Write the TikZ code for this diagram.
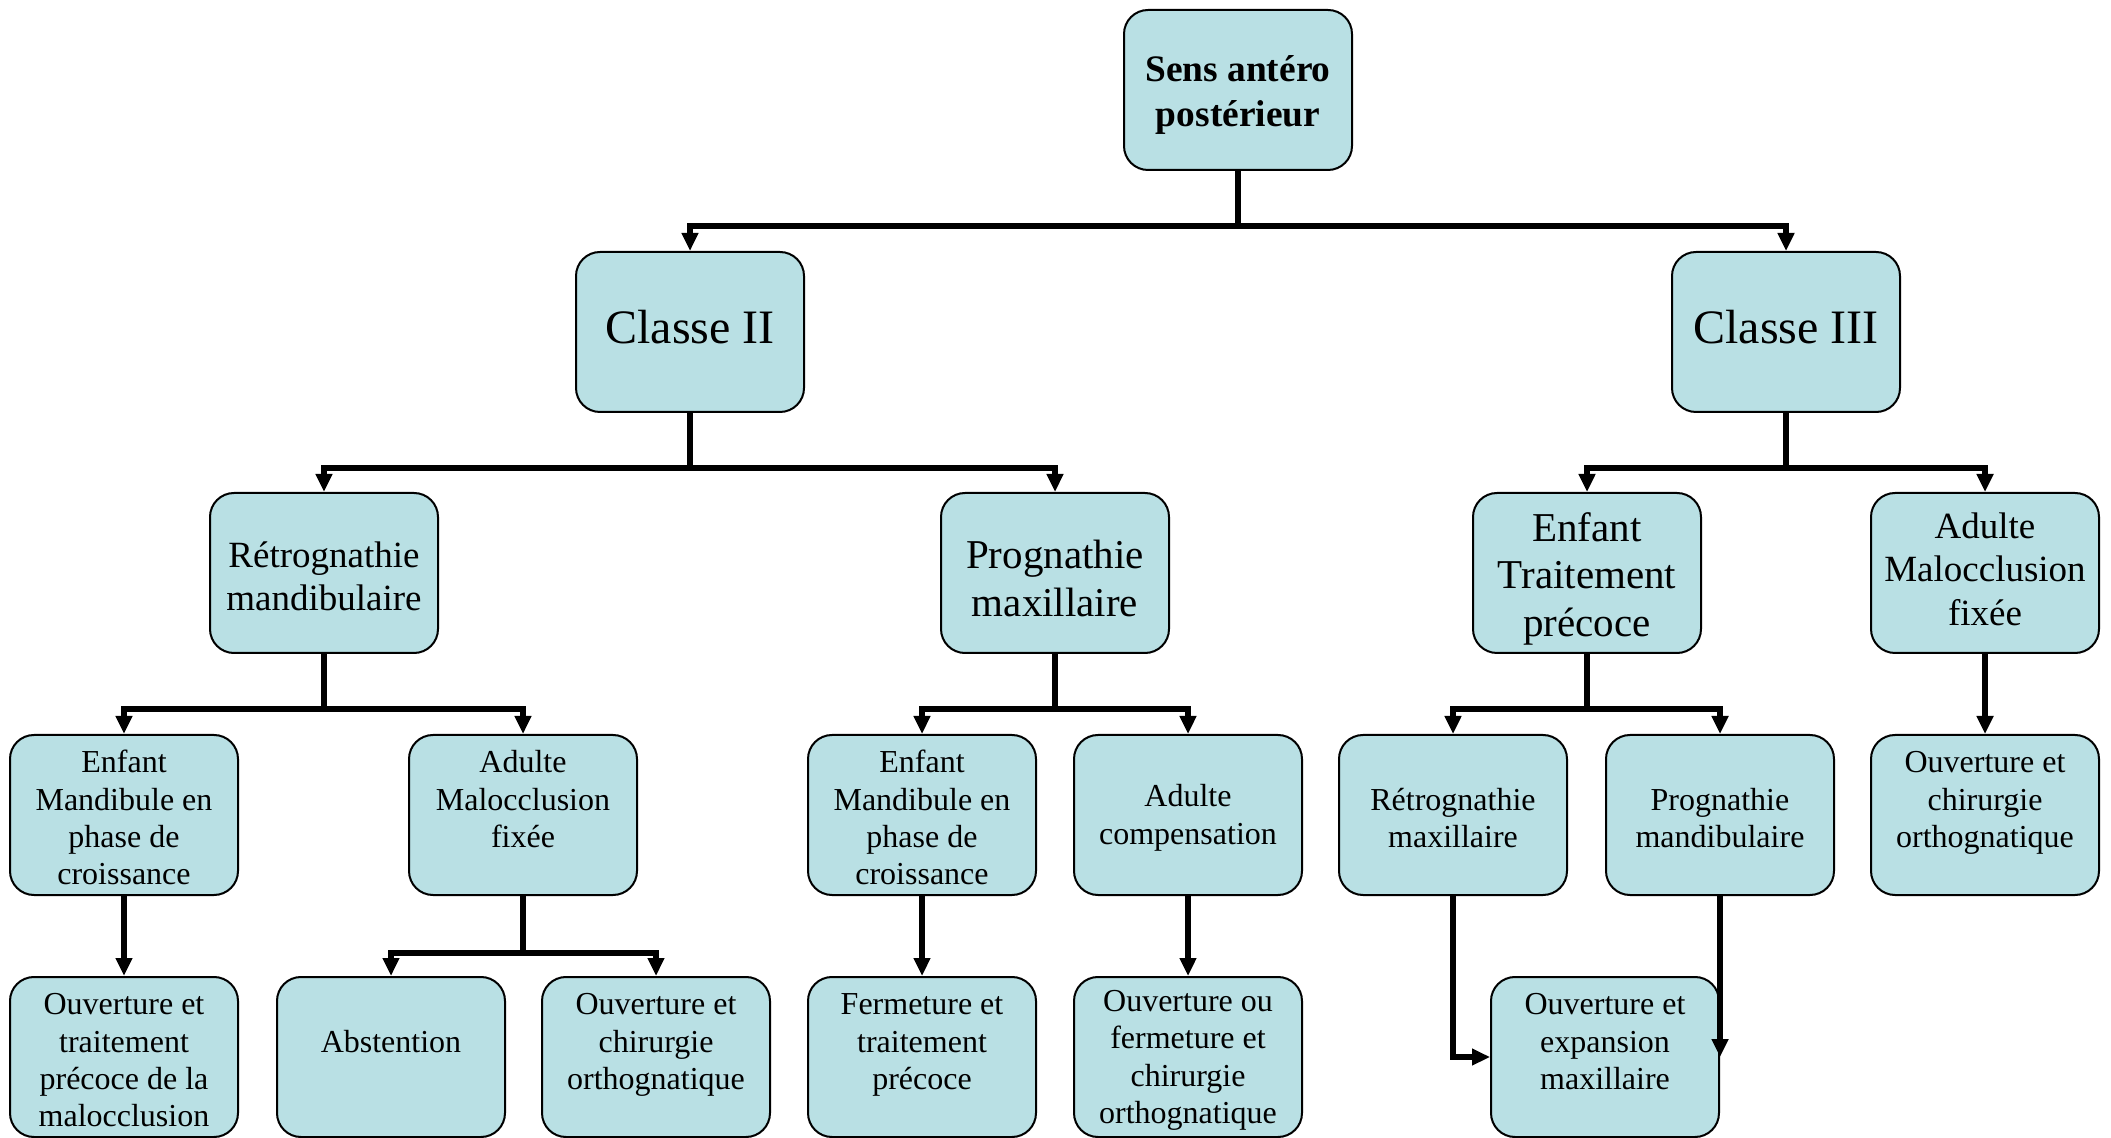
\documentclass[tikz,border=0pt]{standalone}
\usepackage{fontspec}
\setmainfont{Liberation Serif}
\usetikzlibrary{arrows.meta}
\definecolor{boxfill}{RGB}{185,224,228}
\newcommand\sk[1]{\rule{0pt}{#1}}
\begin{document}
\begin{tikzpicture}[x=0.5pt,y=-0.5pt,
  box/.style={draw=black,line width=1pt,fill=boxfill,rounded corners=12pt,
    minimum width=114pt,minimum height=80pt,align=center,inner sep=2pt},
  small/.style={box,font=\fontsize{16}{18.7}\selectfont},
  mid/.style={box,font=\fontsize{18.5}{21.7}\selectfont},
  big/.style={box,font=\fontsize{20.5}{23.8}\selectfont},
  link/.style={line width=2.6pt,-{Triangle[length=9pt,width=8pt]}}]
  \useasboundingbox (0,0) rectangle (2111,1138);
  \node[box,font=\fontsize{18.7}{22.5}\selectfont\bfseries] (root) at (1238,90) {\sk{18pt}Sens antéro\\postérieur};
  \node[box,font=\fontsize{24}{28}\selectfont,text depth=5pt] (c2) at (690,332) {Classe II};
  \node[box,font=\fontsize{24}{28}\selectfont,text depth=5pt] (c3) at (1786,332) {Classe III};
  \node[mid] (rmd) at (324,573) {\sk{16pt}Rétrognathie\\mandibulaire};
  \node[big] (pmx) at (1055,573) {\sk{20pt}Prognathie\\maxillaire};
  \node[big] (etp) at (1587,573) {\sk{20pt}Enfant\\Traitement\\précoce};
  \node[mid] (amf) at (1985,573) {Adulte\\Malocclusion\\fixée\rule[-4pt]{0pt}{4pt}};
  \node[small] (emc1) at (124,815) {\sk{14pt}Enfant\\Mandibule en\\phase de\\croissance};
  \node[small] (amf2) at (523,815) {\sk{14pt}Adulte\\Malocclusion\\fixée\\~};
  \node[small] (emc2) at (922,815) {\sk{14pt}Enfant\\Mandibule en\\phase de\\croissance};
  \node[small] (acp) at (1188,815) {\sk{14pt}Adulte\\compensation};
  \node[small] (rmx) at (1453,815) {\sk{14pt}Rétrognathie\\maxillaire};
  \node[small] (pmd) at (1720,815) {\sk{14pt}Prognathie\\mandibulaire};
  \node[small] (och1) at (1985,815) {\sk{14pt}Ouverture et\\chirurgie\\orthognatique\\~};
  \node[small] (otp) at (124,1057) {\sk{14pt}Ouverture et\\traitement\\précoce de la\\malocclusion};
  \node[small] (abs) at (391,1057) {\sk{14pt}Abstention\\~};
  \node[small] (och2) at (656,1057) {\sk{14pt}Ouverture et\\chirurgie\\orthognatique\\~};
  \node[small] (ftp) at (922,1057) {\sk{14pt}Fermeture et\\traitement\\précoce\\~};
  \node[small] (oof) at (1188,1057) {\sk{14pt}Ouverture ou\\fermeture et\\chirurgie\\orthognatique};
  \node[small] (oex) at (1605,1057) {\sk{14pt}Ouverture et\\expansion\\maxillaire\\~};
  \draw[link] (root.south) -- ++(0,55) -| (c2.north);
  \draw[link] (root.south) -- ++(0,55) -| (c3.north);
  \draw[link] (c2.south) -- ++(0,55) -| (rmd.north);
  \draw[link] (c2.south) -- ++(0,55) -| (pmx.north);
  \draw[link] (c3.south) -- ++(0,55) -| (etp.north);
  \draw[link] (c3.south) -- ++(0,55) -| (amf.north);
  \draw[link] (rmd.south) -- ++(0,55) -| (emc1.north);
  \draw[link] (rmd.south) -- ++(0,55) -| (amf2.north);
  \draw[link] (pmx.south) -- ++(0,55) -| (emc2.north);
  \draw[link] (pmx.south) -- ++(0,55) -| (acp.north);
  \draw[link] (etp.south) -- ++(0,55) -| (rmx.north);
  \draw[link] (etp.south) -- ++(0,55) -| (pmd.north);
  \draw[link] (amf.south) -- (och1.north);
  \draw[link] (emc1.south) -- (otp.north);
  \draw[link] (amf2.south) -- ++(0,57) -| (abs.north);
  \draw[link] (amf2.south) -- ++(0,57) -| (och2.north);
  \draw[link] (emc2.south) -- (ftp.north);
  \draw[link] (acp.south) -- (oof.north);
  \draw[link] (rmx.south) |- (oex.west);
  \draw[link] (pmd.south) -- (pmd.south |- oex.east);
\end{tikzpicture}
\end{document}
